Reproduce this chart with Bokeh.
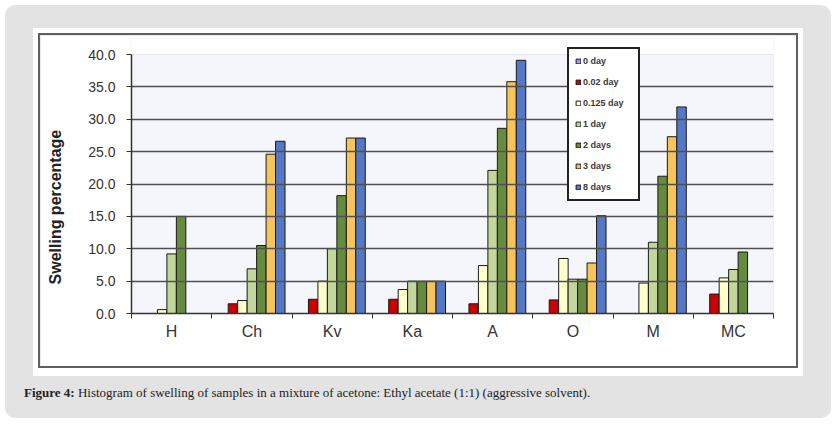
from bokeh.plotting import figure
from bokeh.layouts import column
from bokeh.models import (ColumnDataSource, Range1d, FixedTicker, NumeralTickFormatter,
                          BoxAnnotation, Legend, LegendItem, Div)
from bokeh.embed import file_html
from bokeh.resources import INLINE

# ---- data -------------------------------------------------------------
samples = ["H", "Ch", "Kv", "Ka", "A", "O", "M", "MC"]
series_names = ["0 day", "0.02 day", "0.125 day", "1 day", "2 days", "3 days", "8 days"]
day_0 = [0, 0, 0, 0, 0, 0, 0, 0]
day_002 = [0, 1.5, 2.2, 2.2, 1.5, 2.1, 0, 3.0]
day_0125 = [0.6, 2.0, 5.0, 3.7, 7.4, 8.5, 4.7, 5.5]
day_1 = [9.2, 6.9, 10.0, 5.0, 22.1, 5.3, 11.0, 6.8]
day_2 = [15.0, 10.5, 18.2, 5.0, 28.6, 5.3, 21.2, 9.5]
day_3 = [0, 24.6, 27.1, 5.0, 35.8, 7.8, 27.3, 0]
day_8 = [0, 26.6, 27.1, 5.0, 39.1, 15.1, 31.9, 0]
y_ticks = [0, 5, 10, 15, 20, 25, 30, 35, 40]

series = [day_0, day_002, day_0125, day_1, day_2, day_3, day_8]
colors = ["#9999FF", "#CC0000", "#FFFFCC", "#C3D69B", "#668B3E", "#F5C45A", "#5577C4"]

# ---- chart figure -----------------------------------------------------
PW, PH = 756, 331            # chart canvas
FL, FR, FT, FB = 91, 733, 3, 278   # frame edges inside the canvas
HEADROOM = 16                # pixels above the 40.0 line, used by the legend
y_max = 40
y_top = y_max * (FB - FT) / (FB - FT - HEADROOM)

p = figure(width=PW, height=PH, output_backend="svg", toolbar_location=None,
           x_range=Range1d(0, len(samples)), y_range=Range1d(0, y_top),
           min_border_left=FL, min_border_right=PW - FR,
           min_border_top=FT, min_border_bottom=PH - FB,
           border_fill_color="white", background_fill_color="white",
           outline_line_color=None)
p.margin = (30, 0, 0, 35)
p.styles = {"box-shadow": "0 0 0 2px #5f5f5f, 0 0 0 7px #ffffff, 0 3px 0 7px #ffffff"}

# plot area background with its light border
p.add_layout(BoxAnnotation(left=0, right=len(samples), bottom=0, top=y_max,
                           fill_color="#F4F6FB", fill_alpha=1,
                           line_color="#BBBBBB", line_width=1, level="underlay"))

# ---- grid & axes --------------------------------------------------------
p.xgrid.visible = False
p.ygrid.ticker = FixedTicker(ticks=y_ticks[1:-1])
p.ygrid.grid_line_color = "#4F4F4F"
p.ygrid.grid_line_width = 1.3
p.ygrid.level = "glyph"

p.yaxis.ticker = FixedTicker(ticks=y_ticks)
p.yaxis.bounds = (0, y_max)
p.yaxis.formatter = NumeralTickFormatter(format="0.0")
p.yaxis.major_tick_out = 5
p.yaxis.major_tick_in = 0
p.yaxis.minor_tick_out = 0
p.yaxis.axis_line_color = "#333333"
p.yaxis.axis_line_width = 1.5
p.yaxis.major_tick_line_color = "#333333"
p.yaxis.major_label_text_font = "Liberation Sans"
p.yaxis.major_label_text_font_size = "14px"
p.yaxis.major_label_text_color = "#333333"
p.yaxis.major_label_standoff = 11
p.yaxis.axis_label = "Swelling percentage" + "\u00a0" * 14
p.yaxis.axis_label_text_font = "Liberation Sans"
p.yaxis.axis_label_text_font_size = "16px"
p.yaxis.axis_label_text_font_style = "bold"
p.yaxis.axis_label_text_color = "#222222"
p.yaxis.axis_label_standoff = 21

centers = [i + 0.5 for i in range(len(samples))]
p.xaxis.ticker = FixedTicker(ticks=centers, minor_ticks=list(range(len(samples) + 1)))
p.xaxis.major_label_overrides = {c: s for c, s in zip(centers, samples)}
p.xaxis.major_tick_out = 0
p.xaxis.major_tick_in = 0
p.xaxis.minor_tick_out = 5
p.xaxis.minor_tick_in = 0
p.xaxis.minor_tick_line_color = "#333333"
p.xaxis.axis_line_color = "#333333"
p.xaxis.axis_line_width = 1.5
p.xaxis.major_label_text_font = "Liberation Sans"
p.xaxis.major_label_text_font_size = "16px"
p.xaxis.major_label_text_color = "#333333"
p.xaxis.major_label_standoff = 4

# ---- bars ----------------------------------------------------------------
bar_w = 0.118
items = []
for j, (name, vals, col) in enumerate(zip(series_names, series, colors)):
    xs = [c + (j - 3) * bar_w for c in centers]
    tops = [v if v > 0 else float("nan") for v in vals]
    src = ColumnDataSource(dict(x=xs, top=tops))
    r = p.vbar(x="x", top="top", width=bar_w, bottom=0, source=src,
               fill_color=col, line_color="#1A1A1A", line_width=1)
    items.append(LegendItem(label=name, renderers=[r]))

legend = Legend(items=items, location=(436, 112),
                border_line_color="#222222", border_line_width=2, border_line_alpha=1,
                background_fill_color="white", background_fill_alpha=1,
                label_text_font="Liberation Sans", label_text_font_size="9px",
                label_text_font_style="bold", label_text_color="#3A3A3A",
                glyph_width=6, glyph_height=6, label_height=12, label_width=49,
                label_standoff=2, spacing=9, padding=6, margin=0)
p.add_layout(legend)

# ---- caption -------------------------------------------------------------
caption = Div(text="<b>Figure 4:</b> Histogram of swelling of samples in a mixture of "
                   "acetone: Ethyl acetate (1:1) (aggressive solvent).",
              width=780, height=16,
              styles={"font-family": "Liberation Serif", "font-size": "13px",
                      "color": "#222222", "line-height": "16px"})
caption.margin = (19, 0, 0, 19)

page = column(p, caption, width=826, height=413,
              styles={"background-color": "#E3E3E3", "border-radius": "10px"})
page.margin = (5, 0, 0, 5)

open("out.html", "w").write(file_html(page, INLINE))
